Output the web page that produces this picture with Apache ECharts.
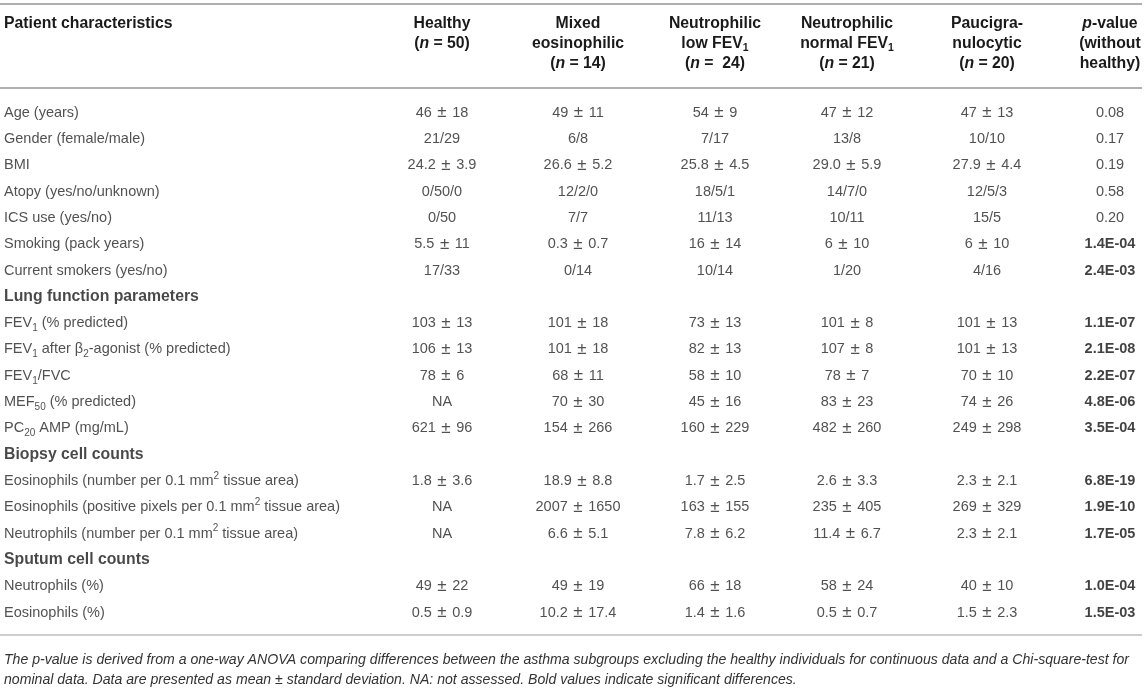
<!DOCTYPE html>
<html>
<head>
<meta charset="utf-8">
<title>Patient characteristics</title>
<script src="https://cdn.jsdelivr.net/npm/echarts@6/dist/echarts.min.js"></script>
<style>
  html, body { margin: 0; padding: 0; background: #fff; }
  #chart { width: 1146px; height: 690px; }
</style>
</head>
<body>
<div id="chart"></div>
<script>
// row labels (rich text: {s|} subscript, {u|} superscript, {b|} bold section)
var rowLabels = [
  'Age (years)',
  'Gender (female/male)',
  'BMI',
  'Atopy (yes/no/unknown)',
  'ICS use (yes/no)',
  'Smoking (pack years)',
  'Current smokers (yes/no)',
  '{b|Lung function parameters}',
  'FEV{s|1} (% predicted)',
  'FEV{s|1} after β{s|2}-agonist (% predicted)',
  'FEV{s|1}/FVC',
  'MEF{s|50} (% predicted)',
  'PC{s|20} AMP (mg/mL)',
  '{b|Biopsy cell counts}',
  'Eosinophils (number per 0.1 mm{u|2} tissue area)',
  'Eosinophils (positive pixels per 0.1 mm{u|2} tissue area)',
  'Neutrophils (number per 0.1 mm{u|2} tissue area)',
  '{b|Sputum cell counts}',
  'Neutrophils (%)',
  'Eosinophils (%)'
];

var colHeaders = [
  '{h|Patient characteristics}',
  '{h|Healthy}\n{h|(}{hi|n}{h| = 50)}',
  '{h|Mixed}\n{h|eosinophilic}\n{h|(}{hi|n}{h| = 14)}',
  '{h|Neutrophilic}\n{h|low FEV}{hs|1}\n{h|(}{hi|n}{h| =  24)}',
  '{h|Neutrophilic}\n{h|normal FEV}{hs|1}\n{h|(}{hi|n}{h| = 21)}',
  '{h|Paucigra-}\n{h|nulocytic}\n{h|(}{hi|n}{h| = 20)}',
  '{hi|p}{h|-value}\n{h|(without}\n{h|healthy)}'
];

var healthy = ['46 ± 18', '21/29', '24.2 ± 3.9', '0/50/0', '0/50', '5.5 ± 11', '17/33', '',
  '103 ± 13', '106 ± 13', '78 ± 6', 'NA', '621 ± 96', '',
  '1.8 ± 3.6', 'NA', 'NA', '', '49 ± 22', '0.5 ± 0.9'];
var mixedEos = ['49 ± 11', '6/8', '26.6 ± 5.2', '12/2/0', '7/7', '0.3 ± 0.7', '0/14', '',
  '101 ± 18', '101 ± 18', '68 ± 11', '70 ± 30', '154 ± 266', '',
  '18.9 ± 8.8', '2007 ± 1650', '6.6 ± 5.1', '', '49 ± 19', '10.2 ± 17.4'];
var neutLow = ['54 ± 9', '7/17', '25.8 ± 4.5', '18/5/1', '11/13', '16 ± 14', '10/14', '',
  '73 ± 13', '82 ± 13', '58 ± 10', '45 ± 16', '160 ± 229', '',
  '1.7 ± 2.5', '163 ± 155', '7.8 ± 6.2', '', '66 ± 18', '1.4 ± 1.6'];
var neutNormal = ['47 ± 12', '13/8', '29.0 ± 5.9', '14/7/0', '10/11', '6 ± 10', '1/20', '',
  '101 ± 8', '107 ± 8', '78 ± 7', '83 ± 23', '482 ± 260', '',
  '2.6 ± 3.3', '235 ± 405', '11.4 ± 6.7', '', '58 ± 24', '0.5 ± 0.7'];
var pauci = ['47 ± 13', '10/10', '27.9 ± 4.4', '12/5/3', '15/5', '6 ± 10', '4/16', '',
  '101 ± 13', '101 ± 13', '70 ± 10', '74 ± 26', '249 ± 298', '',
  '2.3 ± 2.1', '269 ± 329', '2.3 ± 2.1', '', '40 ± 10', '1.5 ± 2.3'];
var pValues = ['0.08', '0.17', '0.19', '0.58', '0.20', '1.4E-04', '2.4E-03', '',
  '1.1E-07', '2.1E-08', '2.2E-07', '4.8E-06', '3.5E-04', '',
  '6.8E-19', '1.9E-10', '1.7E-05', '', '1.0E-04', '1.5E-03'];

var footNote = 'The p-value is derived from a one-way ANOVA comparing differences between the asthma subgroups excluding the healthy individuals for continuous data and a Chi-square-test for\n' +
  'nominal data. Data are presented as mean ± standard deviation. NA: not assessed. Bold values indicate significant differences.';

// layout
var FONT = '"Liberation Sans", Arial, Helvetica, sans-serif';
var TXT = '#262626';
var colCenters = [4, 442, 578, 715, 847, 987, 1110];
var rowTop = 99.5, rowHeight = 526.3;

var columns = [rowLabels, healthy, mixedEos, neutLow, neutNormal, pauci, pValues];

var headRich = {
  h: { fontFamily: FONT, fontSize: 15.8, fontWeight: 'bold', color: '#1a1a1a', lineHeight: 20 },
  hi: { fontFamily: FONT, fontSize: 15.8, fontWeight: 'bold', fontStyle: 'italic', color: '#1a1a1a', lineHeight: 20 },
  hs: { fontFamily: FONT, fontSize: 10.5, fontWeight: 'bold', color: '#1a1a1a', verticalAlign: 'bottom', lineHeight: 20 }
};
var cellRich = {
  s: { fontFamily: FONT, fontSize: 10, color: TXT, verticalAlign: 'bottom', lineHeight: 20 },
  u: { fontFamily: FONT, fontSize: 10, color: TXT, verticalAlign: 'top', lineHeight: 20 },
  b: { fontFamily: FONT, fontSize: 15.8, fontWeight: 'bold', color: '#1a1a1a', lineHeight: 20 },
  pm: { fontFamily: FONT, fontSize: 17, color: TXT, lineHeight: 20, padding: [0, 1.5] }
};

var grids = [], xAxes = [], yAxes = [], series = [];
var rowKeys = rowLabels.map(function (r, i) { return 'r' + i; });

columns.forEach(function (col, c) {
  var first = c === 0;
  grids.push({
    left: first ? 3 : colCenters[c] - 60,
    width: first ? 2 : 120,
    top: rowTop,
    height: rowHeight,
    outerBoundsMode: 'none',
    containLabel: false
  });
  xAxes.push({
    gridIndex: c,
    type: 'category',
    data: ['c' + c],
    position: 'top',
    axisLine: { show: false },
    axisTick: { show: false },
    splitLine: { show: false },
    axisLabel: {
      show: true,
      interval: 0,
      margin: rowTop - 14,
      verticalAlign: 'top',
      align: first ? 'left' : 'center',
      formatter: function () { return colHeaders[c]; },
      rich: headRich
    }
  });
  yAxes.push({
    gridIndex: c,
    type: 'category',
    data: rowKeys,
    inverse: true,
    show: false
  });
  var data = [];
  col.forEach(function (txt, i) {
    if (!txt) return;
    var item = { value: [0, i], txt: txt };
    if (c === 6 && parseFloat(txt) < 0.05) {
      item.label = { fontWeight: 'bold', color: '#111' };
    }
    data.push(item);
  });
  series.push({
    type: 'scatter',
    xAxisIndex: c,
    yAxisIndex: c,
    symbolSize: 0,
    silent: true,
    data: data,
    label: {
      show: true,
      position: first ? 'right' : 'inside',
      distance: 0,
      fontFamily: FONT,
      fontSize: 14.5,
      color: TXT,
      lineHeight: 20,
      formatter: function (p) { return p.data.txt.replace(' ± ', ' {pm|±} '); },
      rich: cellRich
    }
  });
});

var myChart = echarts.init(document.getElementById('chart'), null, { renderer: 'canvas' });
myChart.setOption({
  backgroundColor: '#fff',
  animation: false,
  textStyle: { fontFamily: FONT },
  title: {
    left: 4,
    top: 650,
    padding: 0,
    text: footNote,
    textStyle: {
      fontFamily: FONT,
      fontSize: 14.1,
      fontStyle: 'italic',
      fontWeight: 'normal',
      color: '#333',
      lineHeight: 20
    }
  },
  grid: grids,
  xAxis: xAxes,
  yAxis: yAxes,
  series: series,
  graphic: [
    { type: 'line', shape: { x1: 0, y1: 4, x2: 1142, y2: 4 }, style: { stroke: '#b0b0b0', lineWidth: 2 }, silent: true },
    { type: 'line', shape: { x1: 0, y1: 88, x2: 1142, y2: 88 }, style: { stroke: '#b0b0b0', lineWidth: 2 }, silent: true },
    { type: 'line', shape: { x1: 0, y1: 635, x2: 1142, y2: 635 }, style: { stroke: '#bcbcbc', lineWidth: 1.5 }, silent: true }
  ]
});
</script>
</body>
</html>
